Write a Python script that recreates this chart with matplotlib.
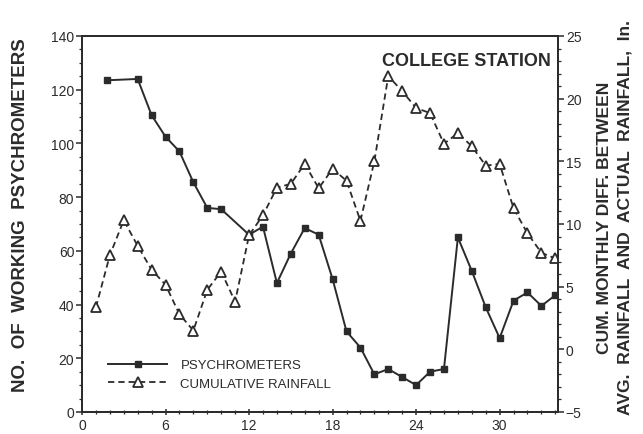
import matplotlib
matplotlib.use("Agg")
import matplotlib.pyplot as plt
from matplotlib.ticker import MultipleLocator

plt.rcParams['font.family'] = ['Liberation Sans', 'DejaVu Sans']

# working psychrometers counted each month (month 11 not read)
psych_months = [1.8, 4, 5, 6, 7, 8, 9, 10, 12, 13, 14, 15, 16, 17, 18, 19, 20,
                21, 22, 23, 24, 25, 26, 27, 28, 29, 30, 31, 32, 33, 34]
psych_count = [123.5, 124, 110.5, 102.5, 97, 85.5, 76, 75.5, 66, 69, 48, 59,
               68.5, 66, 49.5, 30, 24, 14, 16, 13, 10, 15, 16, 65, 52.5, 39,
               27.5, 41.5, 44.5, 39.5, 43.5]

# cumulative monthly difference, avg vs actual rainfall (in.)
rain_months = list(range(1, 35))
rain_diff = [3.35, 7.5, 10.3, 8.25, 6.35, 5.15, 2.8, 1.5, 4.75, 6.2, 3.8, 9.1,
             10.7, 12.9, 13.2, 14.8, 12.85, 14.4, 13.45, 10.25, 15.0, 21.8,
             20.6, 19.25, 18.85, 16.4, 17.25, 16.2, 14.65, 14.8, 11.25, 9.25,
             7.7, 7.25]

ink = '#2b2b2b'

fig = plt.figure(figsize=(6.43, 4.35), dpi=100)
ax = fig.add_axes([0.1275, 0.0506, 0.868 - 0.1275, 0.915 - 0.0506])
ax2 = ax.twinx()

l1, = ax.plot(psych_months, psych_count, '-', color=ink, lw=1.4,
              marker='s', ms=5, mfc=ink, mec=ink, label='PSYCHROMETERS')
l2, = ax2.plot(rain_months, rain_diff, '--', color=ink, lw=1.3,
               dashes=(3.5, 2.2), marker='^', ms=6.5, mfc='white', mec=ink,
               mew=1.3, label='CUMULATIVE RAINFALL')

ax.set_xlim(0, 34.2)
ax.set_ylim(0, 140)
ax2.set_ylim(-5, 25)

ax.xaxis.set_major_locator(MultipleLocator(6))
ax.xaxis.set_minor_locator(MultipleLocator(1))
ax.yaxis.set_major_locator(MultipleLocator(20))
ax.yaxis.set_minor_locator(MultipleLocator(5))
ax2.yaxis.set_major_locator(MultipleLocator(5))
ax2.yaxis.set_minor_locator(MultipleLocator(1))

for a in (ax, ax2):
    for s in a.spines.values():
        s.set_color(ink)
        s.set_linewidth(1.3)
    a.tick_params(which='major', length=4, width=1.1, colors=ink,
                  labelsize=10, pad=1.5)
    a.tick_params(which='minor', length=2.5, width=0.9, colors=ink)
ax.tick_params(axis='x', which='both', direction='inout')
ax.tick_params(axis='x', which='major', pad=2)

ax.set_ylabel('NO.  OF  WORKING  PSYCHROMETERS', fontsize=13.5,
              fontweight='bold', color=ink)
ax.yaxis.set_label_coords(-0.112, 0.525)
ax2.set_ylabel('CUM. MONTHLY DIFF. BETWEEN\n'
               'AVG.  RAINFALL  AND  ACTUAL  RAINFALL,  In.',
               fontsize=12.6, fontweight='bold', color=ink,
               rotation=90, linespacing=1.45)
ax2.yaxis.set_label_coords(1.082, 0.52)

ax.text(0.985, 0.935, 'COLLEGE STATION', transform=ax.transAxes,
        ha='right', va='center', fontsize=13, fontweight='bold', color=ink)

leg = ax2.legend(handles=[l1, l2], loc='lower left',
                 bbox_to_anchor=(0.035, 0.035), frameon=False, fontsize=9.5,
                 handlelength=4.5, handletextpad=1.0, labelspacing=0.45,
                 borderpad=0.2)
for t in leg.get_texts():
    t.set_color(ink)

fig.savefig('out.png', dpi=100)
